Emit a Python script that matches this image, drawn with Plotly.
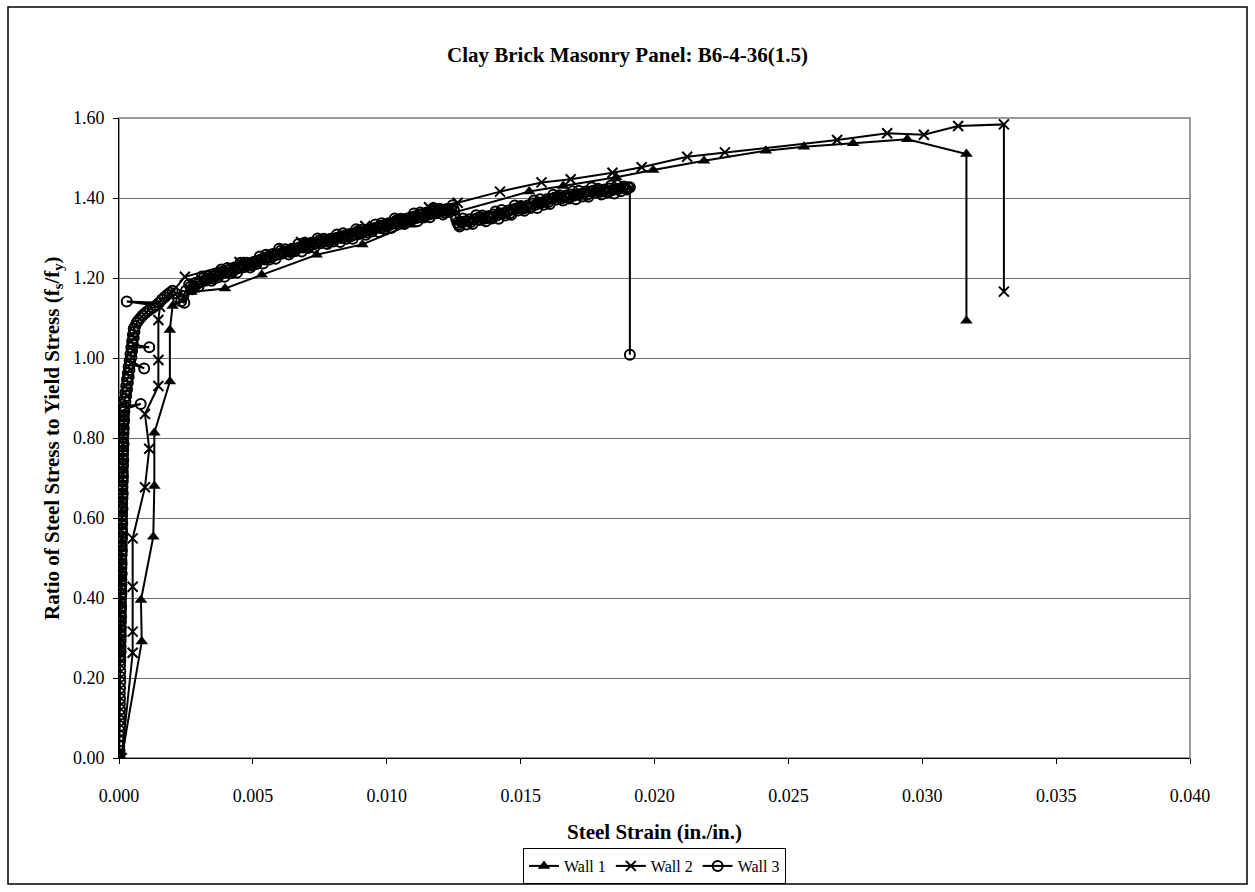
import plotly.graph_objects as go

# Wall 1 gauge readings: steel strain (in./in.) and stress ratio fs/fy
wall1_strain = [0.00010, 0.00085, 0.00082, 0.00128, 0.00132, 0.00132, 0.00190, 0.00190,
                0.00200, 0.00270, 0.00396, 0.00533, 0.00738, 0.00909, 0.01087, 0.01532,
                0.01659, 0.01857, 0.01995, 0.02185, 0.02416, 0.02558, 0.02742, 0.02944,
                0.03165, 0.03165]
wall1_ratio = [0.000, 0.291, 0.395, 0.553, 0.680, 0.813, 0.941, 1.070,
               1.130, 1.165, 1.174, 1.208, 1.258, 1.284, 1.333, 1.416,
               1.430, 1.452, 1.470, 1.493, 1.518, 1.528, 1.537, 1.547,
               1.510, 1.093]

# Wall 2 gauge readings
wall2_strain = [0.00010, 0.00051, 0.00051, 0.00051, 0.00051, 0.00097, 0.00113, 0.00097,
                0.00147, 0.00147, 0.00147, 0.00153, 0.00246, 0.00450, 0.00680, 0.00920,
                0.01158, 0.01265, 0.01423, 0.01578, 0.01687, 0.01843, 0.01952, 0.02122,
                0.02263, 0.02682, 0.02869, 0.03006, 0.03134, 0.03305, 0.03305]
wall2_ratio = [0.000, 0.263, 0.316, 0.428, 0.549, 0.677, 0.773, 0.860,
               0.930, 0.995, 1.095, 1.128, 1.203, 1.240, 1.290, 1.330,
               1.377, 1.388, 1.416, 1.439, 1.447, 1.463, 1.477, 1.503,
               1.514, 1.545, 1.562, 1.558, 1.580, 1.584, 1.166]

# Wall 3 gauge readings (logged at a much higher rate)
wall3_strain = [
    # elastic range
    0.00000, 0.00001, 0.00001, 0.00002, 0.00001, 0.00002, 0.00003, 0.00002, 0.00003, 0.00002,
    0.00003, 0.00004, 0.00003, 0.00004, 0.00003, 0.00004, 0.00005, 0.00004, 0.00005, 0.00004,
    0.00005,
    0.00005, 0.00004, 0.00006, 0.00005, 0.00006, 0.00004, 0.00006, 0.00005, 0.00007, 0.00005,
    0.00006, 0.00007, 0.00005, 0.00007, 0.00006, 0.00008, 0.00006, 0.00007, 0.00006, 0.00008,
    0.00007, 0.00006, 0.00008, 0.00007, 0.00009, 0.00007, 0.00008, 0.00009, 0.00007, 0.00009,
    0.00008, 0.00010, 0.00008, 0.00009, 0.00008, 0.00010, 0.00009, 0.00008, 0.00010, 0.00009,
    0.00011, 0.00009, 0.00010, 0.00009, 0.00011, 0.00010, 0.00012, 0.00010, 0.00011, 0.00010,
    0.00012, 0.00011, 0.00010, 0.00012, 0.00011, 0.00013, 0.00011, 0.00012, 0.00011, 0.00013,
    0.00012, 0.00014, 0.00012, 0.00013, 0.00012, 0.00014, 0.00013, 0.00015, 0.00013, 0.00014,
    0.00013, 0.00015, 0.00014, 0.00016, 0.00014, 0.00015, 0.00014, 0.00016, 0.00015, 0.00017,
    0.00015, 0.00016, 0.00015, 0.00017, 0.00016, 0.00018, 0.00016, 0.00017, 0.00019, 0.00017,
    0.00018, 0.00020, 0.00018,
    # onset of yield
    0.00081, 0.00020, 0.00024, 0.00021, 0.00027, 0.00024, 0.00030, 0.00027, 0.00033, 0.00030,
    0.00036, 0.00033, 0.00039, 0.00036, 0.00042, 0.00094, 0.00040, 0.00046, 0.00043, 0.00049,
    0.00046, 0.00113, 0.00052, 0.00049, 0.00055, 0.00052, 0.00058, 0.00055, 0.00061, 0.00066,
    0.00072, 0.00080, 0.00088, 0.00097, 0.00106, 0.00116, 0.00127, 0.00138, 0.00029, 0.00150,
    0.00160, 0.00170, 0.00180, 0.00190, 0.00200, 0.00210, 0.00220, 0.00232, 0.00244, 0.00240,
    0.00250,
    # strain hardening
    0.00262, 0.00268, 0.00273, 0.00280, 0.00286, 0.00292, 0.00297, 0.00304, 0.00310, 0.00316,
    0.00322, 0.00328, 0.00333, 0.00340, 0.00346, 0.00352, 0.00358, 0.00364, 0.00369, 0.00376,
    0.00382, 0.00388, 0.00394, 0.00400, 0.00405, 0.00412, 0.00418, 0.00424, 0.00430, 0.00436,
    0.00441, 0.00448, 0.00454, 0.00460, 0.00466, 0.00472, 0.00477, 0.00484, 0.00490, 0.00496,
    0.00502, 0.00508, 0.00513, 0.00520, 0.00526, 0.00532, 0.00538, 0.00544, 0.00549, 0.00556,
    0.00562, 0.00568, 0.00574, 0.00580, 0.00585, 0.00592, 0.00598, 0.00604, 0.00610, 0.00616,
    0.00621, 0.00628, 0.00634, 0.00640, 0.00646, 0.00652, 0.00657, 0.00664, 0.00670, 0.00676,
    0.00682, 0.00688, 0.00693, 0.00700, 0.00706, 0.00712, 0.00718, 0.00724, 0.00729, 0.00736,
    0.00742, 0.00748, 0.00754, 0.00760, 0.00765, 0.00772, 0.00778, 0.00784, 0.00790, 0.00796,
    0.00801, 0.00808, 0.00814, 0.00820, 0.00826, 0.00832, 0.00837, 0.00844, 0.00850, 0.00856,
    0.00862, 0.00868, 0.00873, 0.00880, 0.00886, 0.00892, 0.00898, 0.00904, 0.00909, 0.00916,
    0.00922, 0.00928, 0.00934, 0.00940, 0.00945, 0.00952, 0.00958, 0.00964, 0.00970, 0.00976,
    0.00981, 0.00988, 0.00994, 0.01000, 0.01006, 0.01012, 0.01017, 0.01024, 0.01030, 0.01036,
    0.01042, 0.01048, 0.01053, 0.01060, 0.01066, 0.01072, 0.01078, 0.01084, 0.01089, 0.01096,
    0.01102, 0.01108, 0.01114, 0.01120, 0.01125, 0.01132, 0.01138, 0.01144, 0.01150, 0.01156,
    0.01161, 0.01168, 0.01174, 0.01180, 0.01186, 0.01192, 0.01197, 0.01204, 0.01210, 0.01216,
    0.01222, 0.01228, 0.01233, 0.01240, 0.01246, 0.01251, 0.01256, 0.01260, 0.01264, 0.01268,
    0.01272, 0.01278, 0.01285, 0.01291, 0.01297, 0.01303, 0.01309, 0.01315, 0.01321, 0.01328,
    0.01334, 0.01340, 0.01346, 0.01352, 0.01357, 0.01364, 0.01370, 0.01376, 0.01382, 0.01388,
    0.01393, 0.01400, 0.01406, 0.01412, 0.01418, 0.01424, 0.01429, 0.01436, 0.01442, 0.01448,
    0.01454, 0.01460, 0.01465, 0.01472, 0.01478, 0.01484, 0.01490, 0.01496, 0.01501, 0.01508,
    0.01514, 0.01520, 0.01526, 0.01532, 0.01537, 0.01544, 0.01550, 0.01556, 0.01562, 0.01568,
    0.01573, 0.01580, 0.01586, 0.01592, 0.01598, 0.01604, 0.01609, 0.01616, 0.01622, 0.01628,
    0.01634, 0.01640, 0.01645, 0.01652, 0.01658, 0.01664, 0.01670, 0.01676, 0.01681, 0.01688,
    0.01694, 0.01700, 0.01706, 0.01712, 0.01717, 0.01724, 0.01730, 0.01736, 0.01742, 0.01748,
    0.01753, 0.01760, 0.01766, 0.01772, 0.01778, 0.01784, 0.01789, 0.01796, 0.01802, 0.01808,
    0.01814, 0.01820, 0.01825, 0.01832, 0.01838, 0.01844, 0.01850, 0.01856, 0.01861, 0.01868,
    0.01874, 0.01880, 0.01886, 0.01892, 0.01897, 0.01902, 0.01908, 0.01908]
wall3_ratio = [
    # elastic range
    0.000, 0.004, 0.010, 0.018, 0.030, 0.042, 0.055, 0.068, 0.080, 0.094,
    0.108, 0.121, 0.135, 0.148, 0.162, 0.175, 0.190, 0.203, 0.217, 0.231,
    0.244,
    0.251, 0.257, 0.265, 0.270, 0.279, 0.284, 0.292, 0.297, 0.306, 0.311,
    0.319, 0.326, 0.331, 0.340, 0.344, 0.353, 0.358, 0.367, 0.373, 0.378,
    0.387, 0.392, 0.400, 0.407, 0.412, 0.421, 0.425, 0.434, 0.441, 0.446,
    0.454, 0.461, 0.466, 0.475, 0.481, 0.486, 0.495, 0.500, 0.508, 0.515,
    0.520, 0.529, 0.533, 0.542, 0.549, 0.554, 0.562, 0.569, 0.574, 0.583,
    0.587, 0.596, 0.603, 0.608, 0.616, 0.623, 0.628, 0.637, 0.641, 0.650,
    0.657, 0.662, 0.670, 0.677, 0.682, 0.691, 0.695, 0.704, 0.711, 0.716,
    0.724, 0.731, 0.736, 0.745, 0.749, 0.758, 0.765, 0.770, 0.778, 0.785,
    0.790, 0.799, 0.803, 0.812, 0.819, 0.824, 0.832, 0.839, 0.844, 0.853,
    0.857, 0.866, 0.871,
    # onset of yield
    0.885, 0.878, 0.890, 0.897, 0.905, 0.914, 0.921, 0.930, 0.938, 0.946,
    0.953, 0.962, 0.970, 0.978, 0.986, 0.974, 0.994, 1.002, 1.010, 1.018,
    1.026, 1.027, 1.034, 1.042, 1.050, 1.058, 1.066, 1.073, 1.080, 1.088,
    1.094, 1.100, 1.106, 1.112, 1.117, 1.122, 1.126, 1.131, 1.141, 1.138,
    1.146, 1.152, 1.158, 1.163, 1.168, 1.162, 1.150, 1.142, 1.138, 1.155,
    1.168,
    # strain hardening
    1.184, 1.179, 1.172, 1.178, 1.188, 1.185, 1.179, 1.190, 1.204, 1.200,
    1.193, 1.197, 1.204, 1.200, 1.193, 1.199, 1.207, 1.206, 1.201, 1.209,
    1.221, 1.214, 1.203, 1.213, 1.225, 1.220, 1.212, 1.217, 1.226, 1.222,
    1.214, 1.225, 1.238, 1.234, 1.227, 1.231, 1.238, 1.233, 1.226, 1.232,
    1.240, 1.239, 1.235, 1.243, 1.254, 1.247, 1.236, 1.246, 1.258, 1.253,
    1.246, 1.251, 1.260, 1.256, 1.248, 1.259, 1.273, 1.268, 1.261, 1.265,
    1.272, 1.267, 1.259, 1.265, 1.273, 1.271, 1.267, 1.274, 1.285, 1.277,
    1.266, 1.276, 1.288, 1.283, 1.275, 1.280, 1.288, 1.284, 1.276, 1.286,
    1.299, 1.294, 1.287, 1.291, 1.298, 1.293, 1.285, 1.290, 1.298, 1.296,
    1.291, 1.299, 1.309, 1.301, 1.290, 1.300, 1.312, 1.306, 1.298, 1.303,
    1.310, 1.305, 1.298, 1.309, 1.322, 1.317, 1.310, 1.314, 1.321, 1.316,
    1.308, 1.314, 1.322, 1.320, 1.316, 1.324, 1.334, 1.326, 1.315, 1.325,
    1.337, 1.332, 1.324, 1.329, 1.337, 1.333, 1.325, 1.336, 1.349, 1.344,
    1.337, 1.341, 1.348, 1.343, 1.335, 1.341, 1.349, 1.347, 1.343, 1.351,
    1.361, 1.353, 1.342, 1.352, 1.364, 1.359, 1.351, 1.356, 1.364, 1.360,
    1.352, 1.362, 1.375, 1.370, 1.362, 1.366, 1.373, 1.368, 1.359, 1.364,
    1.372, 1.370, 1.365, 1.372, 1.382, 1.370, 1.355, 1.347, 1.338, 1.333,
    1.329, 1.340, 1.349, 1.341, 1.334, 1.342, 1.347, 1.340, 1.335, 1.347,
    1.357, 1.350, 1.345, 1.352, 1.356, 1.348, 1.342, 1.350, 1.355, 1.351,
    1.349, 1.359, 1.366, 1.356, 1.348, 1.361, 1.370, 1.362, 1.356, 1.364,
    1.369, 1.362, 1.358, 1.371, 1.381, 1.374, 1.369, 1.376, 1.380, 1.373,
    1.368, 1.376, 1.381, 1.377, 1.375, 1.386, 1.394, 1.383, 1.375, 1.388,
    1.397, 1.389, 1.383, 1.392, 1.397, 1.390, 1.385, 1.398, 1.408, 1.401,
    1.396, 1.403, 1.407, 1.399, 1.394, 1.402, 1.406, 1.401, 1.399, 1.409,
    1.417, 1.406, 1.397, 1.409, 1.418, 1.410, 1.404, 1.412, 1.416, 1.408,
    1.403, 1.416, 1.426, 1.418, 1.413, 1.420, 1.423, 1.415, 1.409, 1.417,
    1.421, 1.416, 1.414, 1.424, 1.431, 1.420, 1.411, 1.423, 1.432, 1.423,
    1.417, 1.425, 1.429, 1.424, 1.421, 1.426, 1.427, 1.008]

x_ticks = [0.000, 0.005, 0.010, 0.015, 0.020, 0.025, 0.030, 0.035, 0.040]
y_ticks = [0.00, 0.20, 0.40, 0.60, 0.80, 1.00, 1.20, 1.40, 1.60]

FONT = "Liberation Serif, Times New Roman, serif"
INK = "black"
W, H = 1255, 892

# plot-area pixel box inside the figure
L, R, T, B = 119, 1190, 118, 758
PW, PH = R - L, B - T


def px_x(px):
    return (px - L) / PW


def px_y(py):
    return (B - py) / PH


fig = go.Figure()
fig.add_trace(go.Scatter(
    x=wall1_strain, y=wall1_ratio, name="Wall 1", mode="lines+markers",
    line=dict(color=INK, width=2),
    marker=dict(symbol="triangle-up", size=11, color=INK)))
fig.add_trace(go.Scatter(
    x=wall2_strain, y=wall2_ratio, name="Wall 2", mode="lines+markers",
    line=dict(color=INK, width=2),
    marker=dict(symbol="x-thin-open", size=10, color=INK, line=dict(color=INK, width=2))))
fig.add_trace(go.Scatter(
    x=wall3_strain, y=wall3_ratio, name="Wall 3", mode="lines+markers",
    line=dict(color=INK, width=2),
    marker=dict(symbol="circle-open", size=10, color=INK, line=dict(color=INK, width=2))))

fig.update_layout(
    width=W, height=H,
    paper_bgcolor="white", plot_bgcolor="white",
    margin=dict(l=L, r=W - R, t=T, b=H - B, autoexpand=False),
    font=dict(family=FONT, size=17, color=INK),
    title=dict(text="<b>Clay Brick Masonry Panel: B6-4-36(1.5)</b>",
               x=0.5, xanchor="center", y=1 - 55 / H, yanchor="middle",
               font=dict(family=FONT, size=21, color=INK)),
    showlegend=True,
    legend=dict(orientation="h", x=0.5, xanchor="center",
                yref="container", y=(H - 848) / H, yanchor="top",
                bordercolor=INK, borderwidth=1, bgcolor="white",
                font=dict(family=FONT, size=16, color=INK),
                itemwidth=30, tracegroupgap=0),
)

fig.update_xaxes(
    range=[0, 0.040], tickvals=x_ticks, tickformat=".3f",
    showgrid=False, zeroline=False,
    showline=True, linecolor=INK, linewidth=1,
    ticks="outside", ticklen=5, tickcolor=INK, ticklabelstandoff=16,
    tickfont=dict(family=FONT, size=18, color=INK))
fig.update_yaxes(
    range=[0, 1.60], tickvals=y_ticks, tickformat=".2f",
    showgrid=True, gridcolor="#6e6e6e", gridwidth=1, zeroline=False,
    showline=True, linecolor=INK, linewidth=1,
    ticks="outside", ticklen=5, tickcolor=INK, ticklabelstandoff=5,
    tickfont=dict(family=FONT, size=18, color=INK))

# plot-area frame and outer chart border
fig.add_shape(type="rect", xref="paper", yref="paper", x0=0, y0=0, x1=1, y1=1,
              line=dict(color="#7a7a7a", width=1.5), layer="below")
fig.add_shape(type="rect", xref="paper", yref="paper",
              x0=px_x(8), x1=px_x(1247), y0=px_y(884), y1=px_y(7),
              line=dict(color=INK, width=1.5))

# axis titles
fig.add_annotation(text="<b>Steel Strain (in./in.)</b>", xref="paper", yref="paper",
                   x=0.5, y=px_y(832), xanchor="center", yanchor="middle",
                   showarrow=False, font=dict(family=FONT, size=21, color=INK))
fig.add_annotation(text="<b>Ratio of Steel Stress to Yield Stress (f<sub>s</sub>/f<sub>y</sub>)</b>",
                   xref="paper", yref="paper", x=px_x(53), y=0.5,
                   xanchor="center", yanchor="middle", textangle=-90,
                   showarrow=False, font=dict(family=FONT, size=21, color=INK))

fig.write_html("out.html")
